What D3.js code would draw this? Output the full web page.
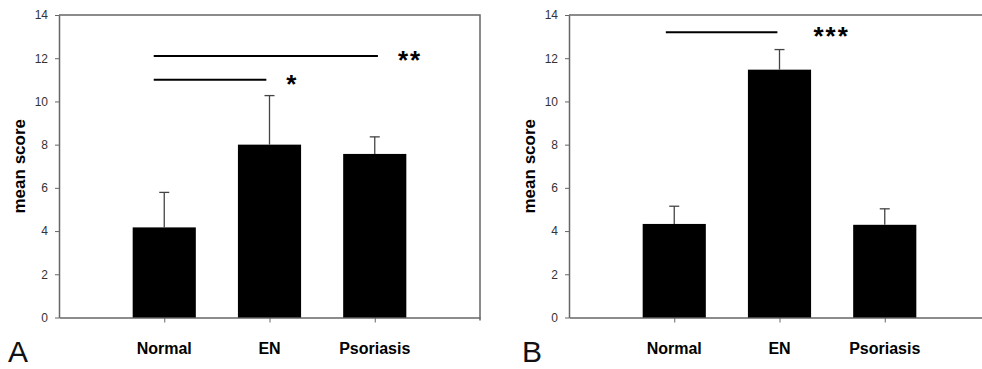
<!DOCTYPE html>
<html>
<head>
<meta charset="utf-8">
<script src="https://cdn.jsdelivr.net/npm/d3@7"></script>
<style>
  body { margin: 0; background: #fff; }
  svg { display: block; font-family: "Liberation Sans", Arial, sans-serif; }
</style>
</head>
<body>
<script>
// data
const categories = ["Normal", "EN", "Psoriasis"];
const meanA = [4.17, 8.0, 7.57];
const errA = [1.62, 2.27, 0.79];
const meanB = [4.33, 11.47, 4.29];
const errB = [0.82, 0.93, 0.74];
const yTicks = [0, 2, 4, 6, 8, 10, 12, 14];
// significance bars: start/end in slot units (category i sits at i+1)
const sigA = [
  { x1: 0.9, x2: 3.03, y: 12.1, label: "**", dx: 20 },
  { x1: 0.9, x2: 1.97, y: 11.0, label: "*", dx: 20 }
];
const sigB = [
  { x1: 0.92, x2: 1.98, y: 13.2, label: "***", dx: 36 }
];

const W = 982, H = 369;
const svg = d3.select("body").append("svg").attr("width", W).attr("height", H);

function panel(left, letter, letterX, means, errs, sigs) {
  const pw = 421, top = 15, bottom = 317.5;
  const x = d3.scaleLinear().domain([0, 4]).range([left, left + pw]);
  const y = d3.scaleLinear().domain([0, 14]).range([bottom, top]);
  const bw = (x(1) - x(0)) * 0.6;
  const g = svg.append("g");

  // frame: top + right lines
  g.append("path")
    .attr("d", `M${left},${top}H${left + pw}V${bottom + 3}`)
    .attr("fill", "none").attr("stroke", "#666").attr("stroke-width", 1.5);

  // y axis
  const ya = g.append("g").attr("transform", `translate(${left},0)`)
    .call(d3.axisLeft(y).tickValues(yTicks).tickSize(4).tickPadding(7).tickSizeOuter(0));
  ya.select(".domain").attr("stroke", "#666").attr("stroke-width", 1.5);
  ya.selectAll(".tick line").attr("stroke", "#666");
  ya.selectAll("text").attr("font-size", 12).attr("fill", "#333")
    .attr("font-family", "Liberation Sans, Arial, sans-serif");

  // x axis
  const xa = g.append("g").attr("transform", `translate(0,${bottom})`)
    .call(d3.axisBottom(x).tickValues([1, 2, 3]).tickSize(5).tickSizeOuter(0).tickFormat(""));
  xa.select(".domain").attr("stroke", "#666").attr("stroke-width", 1.5);
  xa.selectAll(".tick line").attr("stroke", "#666");

  g.selectAll(".xlab").data(categories).enter().append("text")
    .attr("x", (d, i) => x(i + 1)).attr("y", 354)
    .attr("text-anchor", "middle").attr("font-size", 16).attr("font-weight", "bold")
    .text(d => d);

  // bars
  g.selectAll(".bar").data(means).enter().append("rect")
    .attr("x", (d, i) => x(i + 1) - bw / 2).attr("width", bw)
    .attr("y", d => y(d)).attr("height", d => y(0) - y(d))
    .attr("fill", "#000");

  // error bars (upper only)
  const eb = g.selectAll(".err").data(means).enter().append("g");
  eb.append("line")
    .attr("x1", (d, i) => x(i + 1)).attr("x2", (d, i) => x(i + 1))
    .attr("y1", d => y(d)).attr("y2", (d, i) => y(d + errs[i]))
    .attr("stroke", "#444").attr("stroke-width", 1.3);
  eb.append("line")
    .attr("x1", (d, i) => x(i + 1) - 5).attr("x2", (d, i) => x(i + 1) + 5)
    .attr("y1", (d, i) => y(d + errs[i])).attr("y2", (d, i) => y(d + errs[i]))
    .attr("stroke", "#444").attr("stroke-width", 1.3);

  // significance
  sigs.forEach(s => {
    g.append("line")
      .attr("x1", x(s.x1)).attr("x2", x(s.x2))
      .attr("y1", y(s.y)).attr("y2", y(s.y))
      .attr("stroke", "#000").attr("stroke-width", 2);
    g.append("text")
      .attr("x", x(s.x2) + s.dx).attr("y", y(s.y) + 13)
      .attr("font-size", 26).attr("font-weight", "bold").attr("letter-spacing", 2)
      .text(s.label);
  });

  // y title
  g.append("text")
    .attr("transform", `translate(${left - 34},${(top + bottom) / 2}) rotate(-90)`)
    .attr("text-anchor", "middle").attr("font-size", 17).attr("font-weight", "bold")
    .text("mean score");

  // panel letter
  g.append("text").attr("x", letterX).attr("y", 362)
    .attr("font-size", 30).attr("font-weight", "normal").attr("fill", "#111")
    .text(letter);
}

panel(59, "A", 8, meanA, errA, sigA);
panel(569, "B", 522, meanB, errB, sigB);
</script>
</body>
</html>
